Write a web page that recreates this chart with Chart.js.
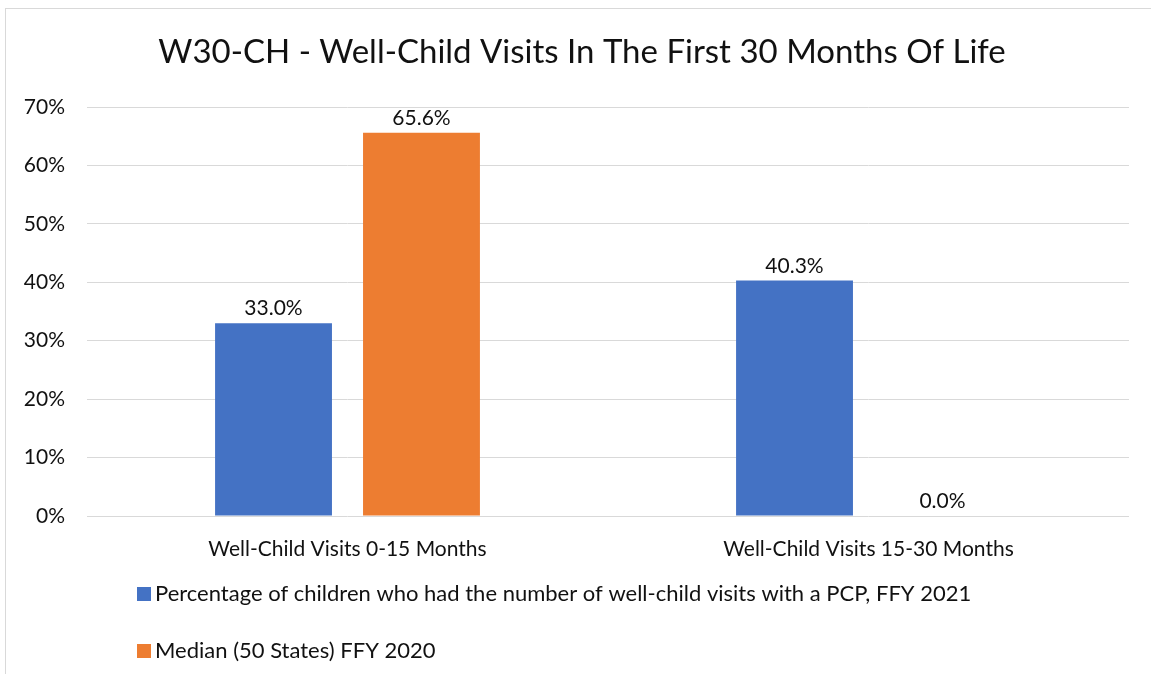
<!DOCTYPE html>
<html>
<head>
<meta charset="utf-8">
<script src="https://cdn.jsdelivr.net/npm/chart.js@4"></script>
<style>
  body { margin: 0; background: #fff; }
  #wrap { position: relative; width: 1151px; height: 674px; }
</style>
</head>
<body>
<div id="wrap"><canvas id="myChart" width="1151" height="674"></canvas></div>
<script>
// chart data
const chartTitle = "W30-CH - Well-Child Visits In The First 30 Months Of Life";
const categories = ["Well-Child Visits 0-15 Months", "Well-Child Visits 15-30 Months"];
const seriesNames = [
  "Percentage of children who had the number of well-child visits with a PCP, FFY 2021",
  "Median (50 States) FFY 2020",
];
const stateValues = [33.0, 40.3];
const medianValues = [65.6, 0.0];
const yTicks = [0, 10, 20, 30, 40, 50, 60, 70];

const colors = ["#4472C4", "#ED7D31"];
const fontFamily = "Lato, 'Open Sans', sans-serif";
const textColor = "#111";
const smallSize = 21;

// value labels on top of bars
const barLabels = {
  id: "barLabels",
  afterDatasetsDraw(chart) {
    const ctx = chart.ctx;
    ctx.save();
    ctx.font = smallSize + "px " + fontFamily;
    ctx.fillStyle = textColor;
    ctx.textAlign = "center";
    ctx.textBaseline = "bottom";
    chart.data.datasets.forEach((ds, i) => {
      chart.getDatasetMeta(i).data.forEach((bar, j) => {
        ctx.fillText(ds.data[j].toFixed(1) + "%", bar.x, bar.y - 4);
      });
    });
    ctx.restore();
  },
};

// title, stacked legend under the axis + outer frame
const frameAndLegend = {
  id: "frameAndLegend",
  afterDraw(chart) {
    const ctx = chart.ctx;
    ctx.save();
    ctx.strokeStyle = "#d9d9d9";
    ctx.lineWidth = 1;
    ctx.strokeRect(5.5, 8.5, 1160, 700);

    ctx.fillStyle = textColor;
    ctx.font = "33px " + fontFamily;
    ctx.textAlign = "center";
    ctx.textBaseline = "middle";
    ctx.fillText(chartTitle, 582, 52);

    ctx.font = "22px " + fontFamily;
    ctx.textAlign = "left";
    seriesNames.forEach((name, i) => {
      const y = 594 + i * 57;
      ctx.fillStyle = colors[i];
      ctx.fillRect(137, y - 7, 14, 14);
      ctx.fillStyle = textColor;
      ctx.fillText(name, 155, y);
    });
    ctx.restore();
  },
};

const ctx = document.getElementById("myChart").getContext("2d");
const myChart = new Chart(ctx, {
  type: "bar",
  data: {
    labels: categories,
    datasets: [
      {
        label: seriesNames[0],
        data: stateValues,
        backgroundColor: colors[0],
        categoryPercentage: 0.568,
        barPercentage: 0.79,
      },
      {
        label: seriesNames[1],
        data: medianValues,
        backgroundColor: colors[1],
        categoryPercentage: 0.568,
        barPercentage: 0.79,
      },
    ],
  },
  options: {
    responsive: false,
    animation: false,
    layout: {
      padding: { top: 107, right: 22, bottom: 108, left: 0 },
    },
    plugins: {
      legend: { display: false },
      tooltip: { enabled: false },
      title: { display: false },
    },
    scales: {
      x: {
        grid: { display: false },
        border: { display: false },
        ticks: {
          color: textColor,
          font: { family: fontFamily, size: smallSize },
          padding: 13,
          maxRotation: 0,
        },
        afterFit: (s) => {
          s.height = 50;
        },
      },
      y: {
        min: 0,
        max: 70,
        afterBuildTicks: (s) => {
          s.ticks = yTicks.map((v) => ({ value: v }));
        },
        grid: { color: "#d9d9d9", lineWidth: 1, drawTicks: false },
        border: { display: false },
        ticks: {
          color: textColor,
          font: { family: fontFamily, size: smallSize },
          padding: 22,
          callback: (v) => v + "%",
        },
        afterFit: (s) => {
          s.width = 87;
        },
      },
    },
  },
  plugins: [barLabels, frameAndLegend],
});
</script>
</body>
</html>
